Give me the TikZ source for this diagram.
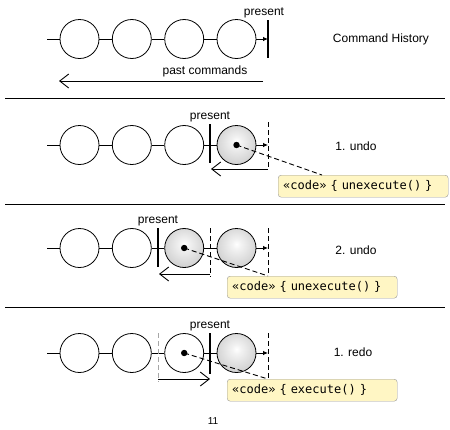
\documentclass[tikz,border=0pt]{standalone}
\usepackage{fontspec}
\setmainfont{Liberation Sans}
\newfontfamily\codefont[WordSpace={1,0,0}]{DejaVu Sans Mono}
\usetikzlibrary{arrows.meta,calc}
\definecolor{notefill}{RGB}{255,246,196}
\pgfdeclareradialshading{ballshade}{\pgfpoint{0bp}{5bp}}{color(0bp)=(white); color(6bp)=(white!95!black); color(50bp)=(white!68!black); color(70bp)=(white!68!black)}
\tikzset{
	cmd/.style={circle, draw, line width=0.8pt, minimum size=39pt, inner sep=0pt},
	undone/.style={cmd, shading=ballshade},
	bar/.style={line width=1.2pt},
	fence/.style={line width=0.9pt, dash pattern=on 5pt off 3pt},
	tickarrow/.style={line width=0.8pt, -{Latex[length=5pt,width=4.5pt]}},
	longarrow/.style={line width=0.9pt, -{Straight Barb[length=9pt,width=14pt]}},
	note/.style={draw=gray!80, fill=notefill, rounded corners=3pt, anchor=north west, text width=160pt, inner xsep=5pt, minimum height=22pt, align=left, font=\codefont\fontsize{12}{14}\selectfont},
	lbl/.style={font=\fontsize{12}{14}\selectfont}
}

\begin{document}
\begin{tikzpicture}[x=1pt, y=-1pt]
	\useasboundingbox (0,0) rectangle (450,429);
	
	%%%%% history %%%%%
	\node[cmd] (h1) at (79.5,39) {};
	\node[cmd] (h2) at (131.8,39) {};
	\node[cmd] (h3) at (184.2,39) {};
	\node[cmd] (h4) at (236.5,39) {};
	\coordinate (h0) at (47,39);
	\coordinate (hp) at (268,39);
	\draw (h0) -- (h1) (h1) -- (h2) (h2) -- (h3) (h3) -- (h4);
	\draw[tickarrow] (h4) -- (hp);
	\draw[bar] (268,20) -- (268,58);
	\node[lbl, anchor=base] at (264,15) {present};
	\coordinate (ha) at (263,81);
	\coordinate (hb) at (59,81);
	\draw[longarrow] (ha) -- (hb);
	\node[lbl, anchor=base] at (205,74) {past commands};
	\node[lbl] at (381,39) {Command History};
	
	\draw[line width=0.9pt] (5,98) -- (445,98);
	
	%%%%% 1. undo %%%%%
	\node[cmd] (u1) at (79.5,145) {};
	\node[cmd] (u2) at (131.8,145) {};
	\node[cmd] (u3) at (184.2,145) {};
	\node[undone] (u4) at (236.5,145) {};
	\coordinate (u0) at (47,145);
	\coordinate (up) at (268,145);
	\draw (u0) -- (u1) (u1) -- (u2) (u2) -- (u3) (u3) -- (u4);
	\draw[tickarrow] (u4) -- (up);
	\draw[bar] (210,124) -- (210,163);
	\node[lbl, anchor=base] at (210,119) {present};
	\draw[fence] (268,122) -- (268,168);
	\coordinate (ua) at (268,169);
	\coordinate (ub) at (211,169);
	\draw[longarrow] (ua) -- (ub);
	\node[note] (un) at (278,175) {«code» \{ unexecute() \}};
	\fill (u4.center) circle (3.2pt);
	\draw[fence] (u4.center) -- ($(un.north west)+(44,0)$);
	\node[lbl] at (356,146) {1. undo};
	
	\draw[line width=0.9pt] (5,204) -- (445,204);
	
	%%%%% 2. undo %%%%%
	\node[cmd] (v1) at (79.5,248) {};
	\node[cmd] (v2) at (131.8,248) {};
	\node[undone] (v3) at (184.2,248) {};
	\node[undone] (v4) at (236.5,248) {};
	\coordinate (v0) at (47,248);
	\coordinate (vp) at (268,248);
	\draw (v0) -- (v1) (v1) -- (v2) (v2) -- (v3) (v3) -- (v4);
	\draw[tickarrow] (v4) -- (vp);
	\draw[bar] (158,228) -- (158,267);
	\node[lbl, anchor=base] at (158,223) {present};
	\draw[fence] (210,228) -- (210,277);
	\draw[fence] (268,228) -- (268,279);
	\coordinate (va) at (210,274);
	\coordinate (vb) at (159,274);
	\draw[longarrow] (va) -- (vb);
	\node[note] (vn) at (227,276) {«code» \{ unexecute() \}};
	\fill (v3.center) circle (3.2pt);
	\draw[fence] (v3.center) -- ($(vn.north west)+(41,0)$);
	\node[lbl] at (356,250) {2. undo};
	
	\draw[line width=0.9pt] (5,307) -- (445,307);
	
	%%%%% 1. redo %%%%%
	\node[cmd] (r1) at (79.5,353) {};
	\node[cmd] (r2) at (131.8,353) {};
	\node[cmd] (r3) at (184.2,353) {};
	\node[undone] (r4) at (236.5,353) {};
	\coordinate (r0) at (47,353);
	\coordinate (rp) at (268,353);
	\draw (r0) -- (r1) (r1) -- (r2) (r2) -- (r3) (r3) -- (r4);
	\draw[tickarrow] (r4) -- (rp);
	\draw[fence, gray!70] (158,333) -- (158,382);
	\draw[bar] (210,333) -- (210,374);
	\node[lbl, anchor=base] at (210,328) {present};
	\draw[fence] (268,333) -- (268,378);
	\coordinate (ra) at (158,379);
	\coordinate (rb) at (210,379);
	\draw[longarrow] (ra) -- (rb);
	\node[note] (rn) at (227,379) {«code» \{ execute() \}};
	\fill (r3.center) circle (3.2pt);
	\draw[fence] (r3.center) -- ($(rn.north west)+(41,0)$);
	\node[lbl] at (353,352) {1. redo};
	
	\node[font=\fontsize{10}{11}\selectfont] at (213,421) {11};
\end{tikzpicture}
\end{document}
